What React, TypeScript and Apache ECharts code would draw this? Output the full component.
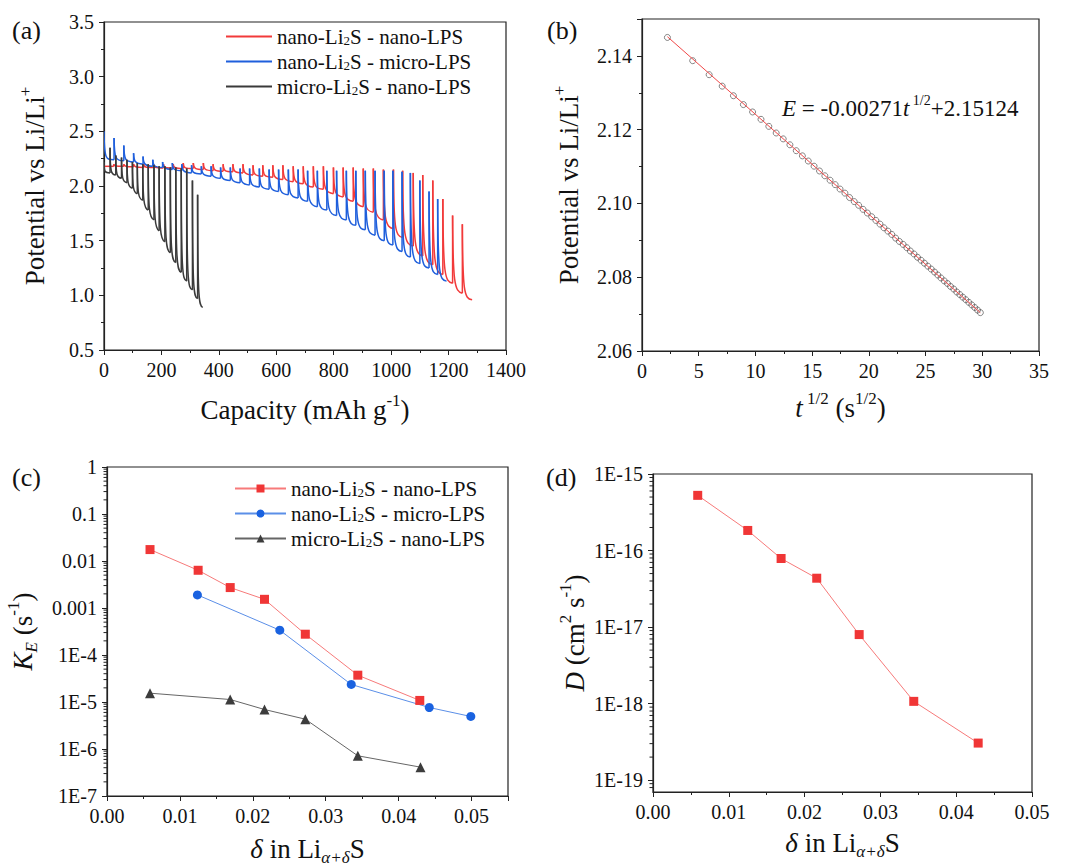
import { useEffect, useRef } from 'react';
import * as echarts from 'echarts';

const FONT = 'Liberation Serif';
const TXT = '#111';
const AX = '#222';

// ---------- names ----------
const nameNN = 'nano-Li2S - nano-LPS';
const nameNM = 'nano-Li2S - micro-LPS';
const nameMN = 'micro-Li2S - nano-LPS';

// ---------- (a) GITT discharge: spike capacity, relaxed top, end-of-pulse bottom ----------
const redCaps = [0, 34, 69, 103, 138, 172, 207, 241, 276, 311, 346, 380, 415, 449, 484, 519, 553, 588, 623, 659, 694, 729, 764, 799, 833, 868, 903, 938, 973, 1008, 1040, 1077, 1110, 1145, 1180, 1214, 1248];
const redTops = [2.18, 2.2, 2.2, 2.2, 2.2, 2.2, 2.2, 2.2, 2.21, 2.21, 2.21, 2.2, 2.2, 2.2, 2.2, 2.19, 2.19, 2.19, 2.19, 2.18, 2.18, 2.18, 2.18, 2.17, 2.17, 2.17, 2.16, 2.16, 2.15, 2.15, 2.14, 2.12, 2.1, 2.05, 1.88, 1.73, 1.65];
const redBottoms = [2.18, 2.18, 2.175, 2.17, 2.17, 2.165, 2.165, 2.16, 2.16, 2.15, 2.14, 2.135, 2.13, 2.12, 2.1, 2.09, 2.08, 2.06, 2.04, 2.02, 1.99, 1.97, 1.93, 1.9, 1.86, 1.81, 1.76, 1.69, 1.61, 1.53, 1.45, 1.36, 1.28, 1.19, 1.11, 1.02, 0.96];
const redEnd = 1282;

const blueCaps = [0, 35, 69, 103, 136, 170, 204, 238, 271, 305, 339, 373, 406, 440, 474, 507, 541, 575, 608, 642, 676, 709, 743, 776, 810, 844, 877, 910, 944, 976, 1006, 1038, 1067, 1100, 1132, 1162];
const blueTops = [2.5, 2.44, 2.37, 2.3, 2.27, 2.24, 2.22, 2.21, 2.2, 2.19, 2.18, 2.18, 2.17, 2.17, 2.16, 2.16, 2.16, 2.15, 2.15, 2.15, 2.15, 2.14, 2.14, 2.14, 2.14, 2.14, 2.14, 2.14, 2.14, 2.14, 2.14, 2.13, 2.12, 2.05, 1.95, 1.88];
const blueBottoms = [2.24, 2.23, 2.22, 2.2, 2.18, 2.17, 2.15, 2.14, 2.12, 2.11, 2.09, 2.07, 2.05, 2.03, 2.01, 1.99, 1.97, 1.95, 1.92, 1.89, 1.86, 1.81, 1.78, 1.73, 1.69, 1.64, 1.6, 1.55, 1.5, 1.46, 1.4, 1.35, 1.29, 1.25, 1.19, 1.13];
const blueEnd = 1193;

const blackCaps = [0, 21, 41, 61, 80, 99, 116, 135, 154, 174, 192, 212, 231, 250, 269, 288, 308, 326];
const blackTops = [2.22, 2.35, 2.28, 2.26, 2.24, 2.22, 2.21, 2.2, 2.2, 2.19, 2.18, 2.18, 2.17, 2.17, 2.16, 2.16, 2.05, 1.92];
const blackBottoms = [2.12, 2.1, 2.07, 2.03, 1.98, 1.93, 1.87, 1.78, 1.69, 1.59, 1.49, 1.39, 1.3, 1.21, 1.13, 1.05, 0.97, 0.89];
const blackEnd = 344;

// ---------- (b) single relaxation step ----------
const sqrtT = [2.24, 4.47, 5.92, 7.07, 8.06, 8.94, 9.75, 10.49, 11.18, 11.83, 12.45, 13.04, 13.6, 14.14, 14.66, 15.17, 15.65, 16.12, 16.58, 17.03, 17.46, 17.89, 18.3, 18.71, 19.1, 19.49, 19.87, 20.25, 20.62, 20.98, 21.33, 21.68, 22.02, 22.36, 22.69, 23.02, 23.35, 23.66, 23.98, 24.29, 24.6, 24.9, 25.2, 25.5, 25.79, 26.08, 26.36, 26.65, 26.93, 27.2, 27.48, 27.75, 28.02, 28.28, 28.55, 28.81, 29.07, 29.33, 29.58, 29.83];
const potentialB = [2.145, 2.1387, 2.1349, 2.1318, 2.1292, 2.1268, 2.1248, 2.1228, 2.1209, 2.1191, 2.1175, 2.1159, 2.1143, 2.1129, 2.1115, 2.1101, 2.1088, 2.1075, 2.1063, 2.1051, 2.1039, 2.1028, 2.1016, 2.1005, 2.0995, 2.0984, 2.0974, 2.0964, 2.0954, 2.0944, 2.0934, 2.0925, 2.0916, 2.0906, 2.0897, 2.0889, 2.088, 2.0871, 2.0863, 2.0854, 2.0846, 2.0838, 2.083, 2.0822, 2.0814, 2.0806, 2.0798, 2.079, 2.0783, 2.0775, 2.0768, 2.076, 2.0753, 2.0746, 2.0739, 2.0732, 2.0725, 2.0718, 2.0711, 2.0704];
const fitX = [2.24, 29.83];
const fitY = [2.1452, 2.0704];

// ---------- (c) K_E ----------
const deltaRed = [0.0059, 0.0125, 0.0169, 0.0216, 0.0272, 0.0344, 0.0429];
const keRed = [0.0175, 0.00635, 0.00272, 0.00153, 2.77e-4, 3.72e-5, 1.08e-5];
const deltaBlue = [0.0124, 0.0237, 0.0335, 0.0442, 0.0499];
const keBlue = [0.0019, 3.37e-4, 2.36e-5, 7.64e-6, 4.92e-6];
const deltaBlack = [0.0059, 0.0169, 0.0216, 0.0272, 0.0344, 0.043];
const keBlack = [1.54e-5, 1.13e-5, 6.93e-6, 4.31e-6, 7.17e-7, 4.11e-7];

// ---------- (d) D ----------
const deltaD = [0.0059, 0.0125, 0.0169, 0.0216, 0.0272, 0.0344, 0.0429];
const diffD = [5.26e-16, 1.83e-16, 7.87e-17, 4.35e-17, 7.98e-18, 1.07e-18, 3.05e-19];

// ---------- helpers ----------
const zip = (xs: number[], ys: number[]) => xs.map((x, i) => [x, ys[i]]);
const teeth = (caps: number[], tops: number[], bottoms: number[], end: number) =>
  caps.map((c, i) => [c, tops[i], i > 0 ? bottoms[i - 1] : tops[i], i < caps.length - 1 ? caps[i + 1] : end, bottoms[i]]);

const gittRender = (color: string) => (params: any, api: any) => {
  const c = api.value(0);
  const top = api.value(1);
  const from = api.value(2);
  const cn = api.value(3);
  const bot = api.value(4);
  const k = params.dataIndex > 0 ? from : bot;
  const w = cn - c;
  const a = api.coord([c, from]);
  const b = api.coord([c, top]);
  const q1 = api.coord([c + 0.03 * w, k]);
  const q2 = api.coord([c + 0.2 * w, bot + 0.15 * (k - bot)]);
  const e = api.coord([cn, bot]);
  const st = { stroke: color, lineWidth: 1.5, fill: 'none' };
  return {
    type: 'group',
    children: [
      { type: 'line', shape: { x1: a[0], y1: a[1], x2: b[0], y2: b[1] }, style: st },
      { type: 'bezierCurve', shape: { x1: b[0], y1: b[1], x2: e[0], y2: e[1], cpx1: q1[0], cpy1: q1[1], cpx2: q2[0], cpy2: q2[1] }, style: st },
    ],
  };
};

const logMinorC: number[] = [];
for (let e = -7; e < 0; e++) for (let m = 2; m <= 9; m++) logMinorC.push(m * Math.pow(10, e));
const logMinorD: number[] = [8e-20, 9e-20];
for (let e = -19; e < -15; e++) for (let m = 2; m <= 9; m++) logMinorD.push(m * Math.pow(10, e));

const minorTickRender = (params: any, api: any) => {
  const p = api.coord([api.value(0), api.value(1)]);
  return { type: 'line', shape: { x1: p[0] - 3.5, y1: p[1], x2: p[0], y2: p[1] }, style: { stroke: AX, lineWidth: 1 } };
};

const logLabel = (v: number) => {
  const e = Math.round(Math.log10(v));
  if (e >= -3) return e === 0 ? '1' : Math.pow(10, e).toFixed(-e);
  return '1E' + e;
};

const mkRich = (fs: number, lhScale = 1.3) => {
  const lh = Math.round(fs * lhScale);
  const small = Math.round(fs * 0.62);
  return {
    n: { fontFamily: FONT, fontSize: fs, color: TXT, lineHeight: lh },
    i: { fontFamily: FONT, fontSize: fs, color: TXT, fontStyle: 'italic', lineHeight: lh },
    sup: { fontFamily: FONT, fontSize: small, color: TXT, verticalAlign: 'top', lineHeight: Math.round(fs * 0.72) },
    sub: { fontFamily: FONT, fontSize: small, color: TXT, verticalAlign: 'bottom', lineHeight: Math.round(lh * 0.68) },
    isub: { fontFamily: FONT, fontSize: small, color: TXT, fontStyle: 'italic', verticalAlign: 'bottom', lineHeight: Math.round(fs * 0.92) },
  };
};

const TITLE = 27;
const titleStyle = { fontFamily: FONT, fontSize: TITLE, color: TXT, lineHeight: Math.round(TITLE * 1.3), rich: mkRich(TITLE) };
const tickLabel = { color: TXT, fontFamily: FONT, fontSize: 20, margin: 10 };

const axisBase = (gridIndex: number) => ({
  gridIndex,
  axisLine: { show: true, onZero: false, lineStyle: { color: AX, width: 1.2 } },
  axisTick: { show: true, inside: false, length: 5, lineStyle: { color: AX, width: 1 } },
  minorTick: { show: true, splitNumber: 2, length: 3, lineStyle: { color: AX, width: 1 } },
  splitLine: { show: false },
  minorSplitLine: { show: false },
  nameLocation: 'middle',
  nameTextStyle: titleStyle,
  nameMoveOverlap: false,
});

const legendFmt = (name: string) => '{n|' + name.slice(2).replace('Li2S', 'Li}{sub|2}{n|S') + '}';
const legendText = { fontFamily: FONT, fontSize: 21, color: TXT, lineHeight: 21, rich: mkRich(21, 1.0) };

const RED_A = '#f23a3a';
const BLUE_A = '#1f5fdc';
const BLACK_A = '#3a3a3a';

export default function App() {
  const ref = useRef<HTMLDivElement>(null);
  useEffect(() => {
    if (!ref.current) return;
    const chart = echarts.init(ref.current, null, { renderer: 'svg' });
    const gridBase = { show: true, borderColor: AX, borderWidth: 1.2, backgroundColor: 'transparent', containLabel: false, outerBoundsMode: 'none' };
    const option: any = {
      animation: false,
      backgroundColor: '#fff',
      textStyle: { fontFamily: FONT },
      grid: [
        { ...gridBase, left: 104, top: 22, width: 402, height: 328 },
        { ...gridBase, left: 642, top: 19, width: 397, height: 332 },
        { ...gridBase, left: 107, top: 467, width: 401, height: 329 },
        { ...gridBase, left: 653, top: 474, width: 379, height: 318 },
      ],
      xAxis: [
        { ...axisBase(0), type: 'value', min: 0, max: 1400, interval: 200, axisLabel: { ...tickLabel, formatter: (v: number) => String(v) }, name: '{n|Capacity (mAh g}{sup|-1}{n|)}', nameGap: 42 },
        { ...axisBase(1), type: 'value', min: 0, max: 35, interval: 5, axisLabel: { ...tickLabel, formatter: (v: number) => String(v) }, name: '{i|t}{sup| 1/2}{n| (s}{sup|1/2}{n|)}', nameGap: 39 },
        { ...axisBase(2), type: 'value', min: 0, max: 0.055, interval: 0.01, axisLabel: { ...tickLabel, formatter: (v: number) => v.toFixed(2), showMaxLabel: false }, name: '{i|δ}{n| in Li}{isub|α+δ}{n|S}', nameGap: 35 },
        { ...axisBase(3), type: 'value', min: 0, max: 0.05, interval: 0.01, axisLabel: { ...tickLabel, formatter: (v: number) => v.toFixed(2) }, name: '{i|δ}{n| in Li}{isub|α+δ}{n|S}', nameGap: 33 },
      ],
      yAxis: [
        { ...axisBase(0), type: 'value', min: 0.5, max: 3.5, interval: 0.5, axisLabel: { ...tickLabel, formatter: (v: number) => v.toFixed(1) }, name: '{n|Potential vs Li/Li}{sup|+}', nameRotate: 90, nameGap: 52 },
        { ...axisBase(1), type: 'value', min: 2.06, max: 2.15, interval: 0.02, axisLabel: { ...tickLabel, formatter: (v: number) => v.toFixed(2), showMaxLabel: false }, name: '{n|Potential vs Li/Li}{sup|+}', nameRotate: 90, nameGap: 56 },
        { ...axisBase(2), type: 'log', logBase: 10, min: 1e-7, max: 1, splitNumber: 7, minorTick: { show: false }, axisLabel: { ...tickLabel, formatter: logLabel }, name: '{i|K}{isub|E}{n| (s}{sup|-1}{n|)}', nameRotate: 90, nameGap: 67 },
        { ...axisBase(3), type: 'log', logBase: 10, min: 7e-20, max: 1e-15, splitNumber: 4, minorTick: { show: false }, axisLabel: { ...tickLabel, formatter: logLabel, showMinLabel: false }, name: '{i|D}{n| (cm}{sup|2}{n| s}{sup|-1}{n|)}', nameRotate: 90, nameGap: 61 },
      ],
      legend: [
        {
          data: [{ name: 'a:' + nameNN, icon: 'rect' }, { name: 'a:' + nameNM, icon: 'rect' }, { name: 'a:' + nameMN, icon: 'rect' }],
          orient: 'vertical', left: 226, top: 26, itemWidth: 46, itemHeight: 2, itemGap: 4, padding: 0,
          formatter: legendFmt, textStyle: legendText, selectedMode: false,
        },
        {
          data: ['c:' + nameNN, 'c:' + nameNM, 'c:' + nameMN],
          orient: 'vertical', left: 234, top: 478, itemWidth: 51, itemHeight: 10, itemGap: 4, padding: 0,
          formatter: legendFmt, textStyle: legendText, selectedMode: false,
        },
      ],
      graphic: [
        { type: 'text', x: 12, y: 30, style: { text: '(a)', fontFamily: FONT, fontSize: 26, fill: TXT, verticalAlign: 'middle' } },
        { type: 'text', x: 547, y: 30, style: { text: '(b)', fontFamily: FONT, fontSize: 26, fill: TXT, verticalAlign: 'middle' } },
        { type: 'text', x: 12, y: 477, style: { text: '(c)', fontFamily: FONT, fontSize: 26, fill: TXT, verticalAlign: 'middle' } },
        { type: 'text', x: 546, y: 477, style: { text: '(d)', fontFamily: FONT, fontSize: 26, fill: TXT, verticalAlign: 'middle' } },
        {
          type: 'text', x: 782, y: 108,
          style: { text: '{i|E}{n| = -0.00271}{i|t}{sup| 1/2}{n|+2.15124}', rich: mkRich(23), fontFamily: FONT, fontSize: 23, fill: TXT, verticalAlign: 'middle' },
        },
      ],
      series: [
        // (a)
        { type: 'custom', name: 'a:' + nameNN, xAxisIndex: 0, yAxisIndex: 0, data: teeth(redCaps, redTops, redBottoms, redEnd), renderItem: gittRender(RED_A), itemStyle: { color: RED_A }, encode: { x: 0, y: 1 }, clip: true },
        { type: 'custom', name: 'a:' + nameNM, xAxisIndex: 0, yAxisIndex: 0, data: teeth(blueCaps, blueTops, blueBottoms, blueEnd), renderItem: gittRender(BLUE_A), itemStyle: { color: BLUE_A }, encode: { x: 0, y: 1 }, clip: true },
        { type: 'custom', name: 'a:' + nameMN, xAxisIndex: 0, yAxisIndex: 0, data: teeth(blackCaps, blackTops, blackBottoms, blackEnd), renderItem: gittRender(BLACK_A), itemStyle: { color: BLACK_A }, encode: { x: 0, y: 1 }, clip: true },
        // (b)
        { type: 'line', name: 'fit', xAxisIndex: 1, yAxisIndex: 1, data: zip(fitX, fitY), showSymbol: false, symbol: 'none', lineStyle: { color: '#f04848', width: 1 } },
        { type: 'scatter', name: 'exp', xAxisIndex: 1, yAxisIndex: 1, data: zip(sqrtT, potentialB), symbol: 'circle', symbolSize: 6, itemStyle: { color: 'rgba(255,255,255,0)', borderColor: '#555', borderWidth: 0.9 } },
        // (c)
        { type: 'line', name: 'c:' + nameNN, xAxisIndex: 2, yAxisIndex: 2, data: zip(deltaRed, keRed), symbol: 'rect', symbolSize: 9, itemStyle: { color: '#f03636' }, lineStyle: { color: '#f77a7a', width: 1 } },
        { type: 'line', name: 'c:' + nameNM, xAxisIndex: 2, yAxisIndex: 2, data: zip(deltaBlue, keBlue), symbol: 'circle', symbolSize: 9, itemStyle: { color: '#1a62e0' }, lineStyle: { color: '#5b8fe8', width: 1 } },
        { type: 'line', name: 'c:' + nameMN, xAxisIndex: 2, yAxisIndex: 2, data: zip(deltaBlack, keBlack), symbol: 'triangle', symbolSize: 10, itemStyle: { color: '#3c3c3c' }, lineStyle: { color: '#666', width: 1 } },
        { type: 'custom', name: 'minorC', xAxisIndex: 2, yAxisIndex: 2, data: logMinorC.map((v) => [0, v]), renderItem: minorTickRender, clip: false, silent: true, encode: { x: 0, y: 1 } },
        // (d)
        { type: 'line', name: 'd', xAxisIndex: 3, yAxisIndex: 3, data: zip(deltaD, diffD), symbol: 'rect', symbolSize: 9, itemStyle: { color: '#f03636' }, lineStyle: { color: '#f77a7a', width: 1 } },
        { type: 'custom', name: 'minorD', xAxisIndex: 3, yAxisIndex: 3, data: logMinorD.map((v) => [0, v]), renderItem: minorTickRender, clip: false, silent: true, encode: { x: 0, y: 1 } },
      ],
    };
    chart.setOption(option);
    return () => chart.dispose();
  }, []);
  return <div ref={ref} style={{ position: 'absolute', left: 0, top: 0, width: 1073, height: 866, background: '#fff' }} />;
}
